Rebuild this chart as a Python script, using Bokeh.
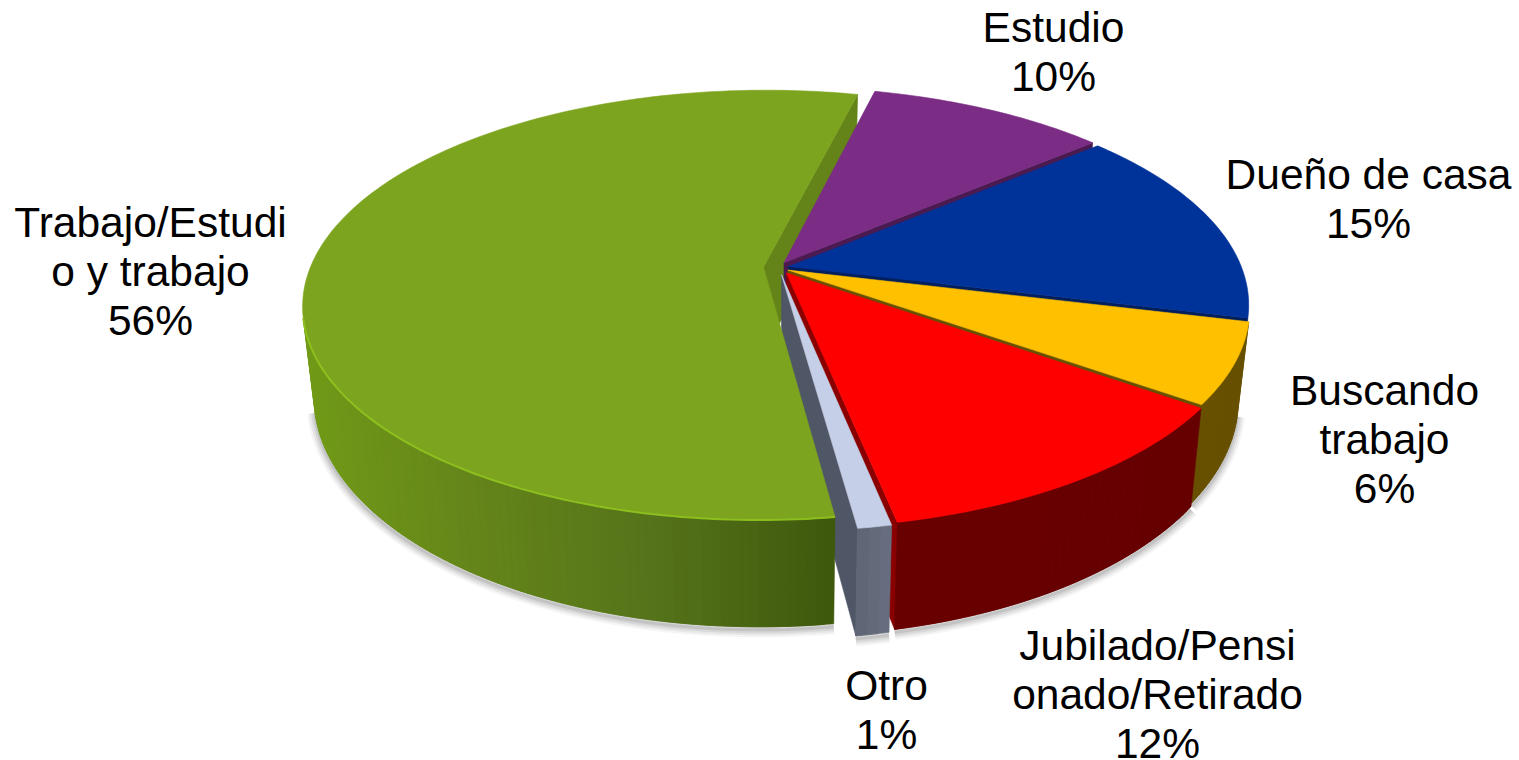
import numpy as np
from bokeh.plotting import figure
from bokeh.models import ColumnDataSource
from bokeh.core.properties import value
from bokeh.embed import file_html
from bokeh.resources import INLINE

# --- chart data ---
names = ["Estudio", "Dueño de casa", "Buscando\ntrabajo", "Jubilado/Pensi\nonado/Retirado", "Otro", "Trabajo/Estudi\no y trabajo"]
shares = [10, 15, 6, 12, 1, 56]

# --- styles ---
top_colors = ["#7B2C84", "#003399", "#FFC000", "#FF0000", "#C5D0E8", "#7DA41F"]
cut_colors = ["#4B1A50", "#001F5C", "#675000", "#8A0000", "#4F5666", "#64841A"]
wall_stops = [["#4B1A50"], ["#001F5C"], ["#675000"], ["#690000", "#660000"], ["#5C6372", "#666D7E"],
              ["#719A18", "#64841A", "#55731A", "#3F590C"]]
explode = [0.02, 0.02, 0.02, 0.02, 0.03, 0.04]
explode_dx = [-0.005, -0.004, -0.004, 0, -0.005, 0]
explode_dz = [-0.006, 0, 0.004, 0.009, 0.005, 0]

# --- layout ---
START_DEG = 13.7
CX, CY = 781.0, 267.0
D, F, KF, H, SHRINK = 5.65, 2560.0, 1177.0, 497.0, 0.024
label_pos = [(1053, 27), (1368, 174), (1384, 390), (1157, 645), (886, 685), (150, 222)]
LINE_STEP = 49.0
GREEN = 5  # its cut face lies under the neighbour's top, its top over "Otro"


def proj(x, z, y):
    s = 1.0 / (D - z)
    return CX + F * x * s * (1 - SHRINK * y), CY + (KF * z + H * y) * s


def lerp_color(stops, t):
    if len(stops) == 1:
        return stops[0]
    t = min(max(t, 0.0), 1.0) * (len(stops) - 1)
    i = min(int(t), len(stops) - 2)
    a = [int(stops[i][j:j + 2], 16) for j in (1, 3, 5)]
    b = [int(stops[i + 1][j:j + 2], 16) for j in (1, 3, 5)]
    u = t - i
    return "#%02x%02x%02x" % tuple(int(round(a[k] + (b[k] - a[k]) * u)) for k in range(3))


def quad(p, q):
    xs = [proj(*p, 0)[0], proj(*q, 0)[0], proj(*q, 1)[0], proj(*p, 1)[0]]
    ys = [proj(*p, 0)[1], proj(*q, 0)[1], proj(*q, 1)[1], proj(*p, 1)[1]]
    return xs, ys


def area(xs, ys):
    return sum(xs[i] * ys[(i + 1) % 4] - xs[(i + 1) % 4] * ys[i] for i in range(4)) / 2


total = sum(shares)
bounds = np.radians(START_DEG + np.cumsum([0] + shares) * 360.0 / total)

px, py, pc = [], [], []
shadow_x, shadow_y = [], []
rim_x, rim_y = [], []


def ring(idx):
    a0, a1 = bounds[idx], bounds[idx + 1]
    mid = (a0 + a1) / 2
    ox = explode[idx] * np.sin(mid) + explode_dx[idx]
    oz = -explode[idx] * np.cos(mid) + explode_dz[idx]
    n = max(int((a1 - a0) / np.radians(1.0)), 2)
    th = np.linspace(a0, a1, n + 1)
    return ox, oz, n, ox + np.sin(th), oz - np.cos(th)


def add_cuts(idx):
    ox, oz, n, rx, rz = ring(idx)
    for p_, q_ in (((ox, oz), (rx[0], rz[0])), ((rx[-1], rz[-1]), (ox, oz))):
        xs, ys = quad(p_, q_)
        if area(xs, ys) < 0:
            px.append(xs); py.append(ys); pc.append(cut_colors[idx])


add_cuts(GREEN)
for idx in range(len(shares)):
    ox, oz, n, rx, rz = ring(idx)
    if idx != GREEN:
        add_cuts(idx)

    # outer wall: overlapping strips, so no seams show between them
    vis = [i for i in range(n) if area(*quad((rx[i], rz[i]), (rx[i + 1], rz[i + 1]))) < 0]
    if vis:
        last = vis[-1] + 1
        xall = [proj(rx[i], rz[i], 0)[0] for i in vis + [last]]
        xmin, xmax = min(xall), max(xall)
        for i in vis:
            j = min(i + 2, last)
            xs, ys = quad((rx[i], rz[i]), (rx[j], rz[j]))
            t = (proj(rx[i], rz[i], 0)[0] - xmin) / max(xmax - xmin, 1)
            px.append(xs); py.append(ys); pc.append(lerp_color(wall_stops[idx], t))
        ids = vis + [last]
        bx, by = proj(rx[ids], rz[ids], 1)
        shadow_x.append(list(bx)); shadow_y.append(list(by + 3))
        if idx == GREEN:
            tx, ty = proj(rx[ids], rz[ids], 0)
            rim_x, rim_y = list(tx), list(ty)

    # top face
    tx, ty = proj(np.r_[ox, rx], np.r_[oz, rz], 0)
    px.append(list(tx)); py.append(list(ty)); pc.append(top_colors[idx])

p = figure(width=1519, height=760, x_range=(0, 1519), y_range=(760, 0),
           output_backend="svg", toolbar_location=None, min_border=0,
           outline_line_color=None, background_fill_color="white", border_fill_color="white")
p.xaxis.visible = False
p.yaxis.visible = False
p.xgrid.visible = False
p.ygrid.visible = False

for w, al in ((15, 0.06), (11, 0.08), (7, 0.10), (3, 0.14)):
    p.multi_line(shadow_x, shadow_y, line_color="#505050", line_width=w, line_alpha=al)

p.patches("x", "y", source=ColumnDataSource(dict(x=px, y=py, c=pc)),
          fill_color="c", line_color="c", line_width=0.6)
p.line(rim_x, rim_y, line_color="#8FC31F", line_width=2, line_alpha=0.9)

lx, ly, lt = [], [], []
for name, share, (x0, y0) in zip(names, shares, label_pos):
    for j, line in enumerate(name.split("\n") + [f"{share}%"]):
        lx.append(x0); ly.append(y0 + j * LINE_STEP); lt.append(line)
p.text(lx, ly, text=lt, text_font=value("Liberation Sans"), text_font_size="42.5px",
       text_color="black", text_align="center", text_baseline="middle")

open("out.html", "w").write(file_html(p, INLINE))
